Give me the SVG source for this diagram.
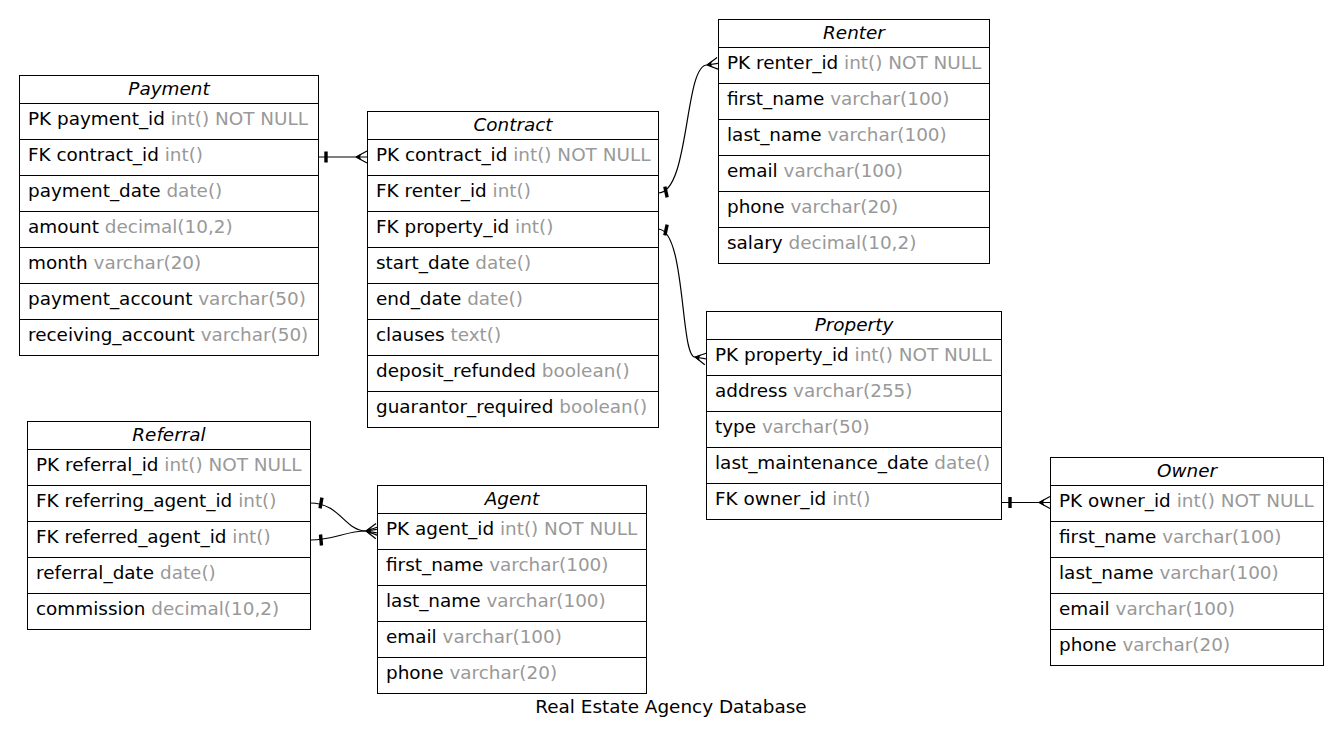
<svg xmlns="http://www.w3.org/2000/svg" width="1342" height="743" viewBox="0 0 1342 743">
<style>
  text { font-family: "DejaVu Sans", "Liberation Sans", sans-serif; font-size: 18.4px; fill: #000; }
  .hd { font-style: italic; text-anchor: middle; }
  .t { fill: #999999; }
  .box { fill: #fff; stroke: #000; stroke-width: 1; }
  .sep { stroke: #000; stroke-width: 1; }
  .edge { fill: none; stroke: #000; stroke-width: 1.2; }
  .ttl { text-anchor: middle; }
</style>
<defs>
  <!-- crow's foot: vertex at origin, prongs open toward +x -->
  <g id="crow">
    <path d="M0,0 L11,-6 M0,0 L11,6 M0,0 L11,0" fill="none" stroke="#000" stroke-width="1.2"/>
    <polygon points="-0.5,0 5.5,-3.4 4,0 5.5,3.4" fill="#000"/>
  </g>
  <!-- one-side bar -->
  <rect id="tee" x="-1.7" y="-5.5" width="3.4" height="11" fill="#000"/>
</defs>
<rect width="1342" height="743" fill="#fff"/>

<g id="connectors">
  <!-- Payment.contract_id -> Contract.contract_id -->
  <path class="edge" d="M318,157 L356,157"/>
  <use href="#tee" transform="translate(326,157)"/>
  <use href="#crow" transform="translate(356,157)"/>
  <!-- Contract.renter_id -> Renter.renter_id -->
  <path class="edge" d="M658,193 C690,193 684,65 707,65"/>
  <use href="#tee" transform="translate(666,192) rotate(-12)"/>
  <use href="#crow" transform="translate(707,65) rotate(-8)"/>
  <!-- Contract.property_id -> Property.property_id -->
  <path class="edge" d="M658,229 C686,229 680,357 695,357"/>
  <use href="#tee" transform="translate(666,230) rotate(12)"/>
  <use href="#crow" transform="translate(695,357) rotate(10)"/>
  <!-- Referral.referring_agent_id -> Agent.agent_id -->
  <path class="edge" d="M310,503 C340,503 345,531 366,531"/>
  <use href="#tee" transform="translate(321,503) rotate(10)"/>
  <use href="#crow" transform="translate(366,531) rotate(10)"/>
  <!-- Referral.referred_agent_id -> Agent.agent_id -->
  <path class="edge" d="M310,540 C335,540 345,531 366,531"/>
  <use href="#tee" transform="translate(321,540) rotate(-5)"/>
  <use href="#crow" transform="translate(366,531) rotate(-8)"/>
  <!-- Property.owner_id -> Owner.owner_id -->
  <path class="edge" d="M1001,502.5 L1039,502.5"/>
  <use href="#tee" transform="translate(1010,502.5)"/>
  <use href="#crow" transform="translate(1039,502.5)"/>
</g>

<g id="payment">
  <rect class="box" x="19.5" y="75.5" width="299" height="280"/>
  <path class="sep" d="M19.5,103.5 H318.5 M19.5,139.5 H318.5 M19.5,175.5 H318.5 M19.5,211.5 H318.5 M19.5,247.5 H318.5 M19.5,283.5 H318.5 M19.5,319.5 H318.5"/>
  <text class="hd" x="169" y="95">Payment</text>
  <text x="28" y="125">PK payment_id <tspan class="t">int() NOT NULL</tspan></text>
  <text x="28" y="161">FK contract_id <tspan class="t">int()</tspan></text>
  <text x="28" y="197">payment_date <tspan class="t">date()</tspan></text>
  <text x="28" y="233">amount <tspan class="t">decimal(10,2)</tspan></text>
  <text x="28" y="269">month <tspan class="t">varchar(20)</tspan></text>
  <text x="28" y="305">payment_account <tspan class="t">varchar(50)</tspan></text>
  <text x="28" y="341">receiving_account <tspan class="t">varchar(50)</tspan></text>
</g>

<g id="contract">
  <rect class="box" x="367.5" y="111.5" width="291" height="316"/>
  <path class="sep" d="M367.5,139.5 H658.5 M367.5,175.5 H658.5 M367.5,211.5 H658.5 M367.5,247.5 H658.5 M367.5,283.5 H658.5 M367.5,319.5 H658.5 M367.5,355.5 H658.5 M367.5,391.5 H658.5"/>
  <text class="hd" x="513" y="131">Contract</text>
  <text x="376" y="161">PK contract_id <tspan class="t">int() NOT NULL</tspan></text>
  <text x="376" y="197">FK renter_id <tspan class="t">int()</tspan></text>
  <text x="376" y="233">FK property_id <tspan class="t">int()</tspan></text>
  <text x="376" y="269">start_date <tspan class="t">date()</tspan></text>
  <text x="376" y="305">end_date <tspan class="t">date()</tspan></text>
  <text x="376" y="341">clauses <tspan class="t">text()</tspan></text>
  <text x="376" y="377">deposit_refunded <tspan class="t">boolean()</tspan></text>
  <text x="376" y="413">guarantor_required <tspan class="t">boolean()</tspan></text>
</g>

<g id="renter">
  <rect class="box" x="718.5" y="19.5" width="271" height="244"/>
  <path class="sep" d="M718.5,47.5 H989.5 M718.5,83.5 H989.5 M718.5,119.5 H989.5 M718.5,155.5 H989.5 M718.5,191.5 H989.5 M718.5,227.5 H989.5"/>
  <text class="hd" x="854" y="39">Renter</text>
  <text x="727" y="69">PK renter_id <tspan class="t">int() NOT NULL</tspan></text>
  <text x="727" y="105">first_name <tspan class="t">varchar(100)</tspan></text>
  <text x="727" y="141">last_name <tspan class="t">varchar(100)</tspan></text>
  <text x="727" y="177">email <tspan class="t">varchar(100)</tspan></text>
  <text x="727" y="213">phone <tspan class="t">varchar(20)</tspan></text>
  <text x="727" y="249">salary <tspan class="t">decimal(10,2)</tspan></text>
</g>

<g id="property">
  <rect class="box" x="706.5" y="311.5" width="295" height="208"/>
  <path class="sep" d="M706.5,339.5 H1001.5 M706.5,375.5 H1001.5 M706.5,411.5 H1001.5 M706.5,447.5 H1001.5 M706.5,483.5 H1001.5"/>
  <text class="hd" x="854" y="331">Property</text>
  <text x="715" y="361">PK property_id <tspan class="t">int() NOT NULL</tspan></text>
  <text x="715" y="397">address <tspan class="t">varchar(255)</tspan></text>
  <text x="715" y="433">type <tspan class="t">varchar(50)</tspan></text>
  <text x="715" y="469">last_maintenance_date <tspan class="t">date()</tspan></text>
  <text x="715" y="505">FK owner_id <tspan class="t">int()</tspan></text>
</g>

<g id="owner">
  <rect class="box" x="1050.5" y="457.5" width="273" height="208"/>
  <path class="sep" d="M1050.5,485.5 H1323.5 M1050.5,521.5 H1323.5 M1050.5,557.5 H1323.5 M1050.5,593.5 H1323.5 M1050.5,629.5 H1323.5"/>
  <text class="hd" x="1187" y="477">Owner</text>
  <text x="1059" y="507">PK owner_id <tspan class="t">int() NOT NULL</tspan></text>
  <text x="1059" y="543">first_name <tspan class="t">varchar(100)</tspan></text>
  <text x="1059" y="579">last_name <tspan class="t">varchar(100)</tspan></text>
  <text x="1059" y="615">email <tspan class="t">varchar(100)</tspan></text>
  <text x="1059" y="651">phone <tspan class="t">varchar(20)</tspan></text>
</g>

<g id="referral">
  <rect class="box" x="27.5" y="421.5" width="283" height="208"/>
  <path class="sep" d="M27.5,449.5 H310.5 M27.5,485.5 H310.5 M27.5,521.5 H310.5 M27.5,557.5 H310.5 M27.5,593.5 H310.5"/>
  <text class="hd" x="169" y="441">Referral</text>
  <text x="36" y="471">PK referral_id <tspan class="t">int() NOT NULL</tspan></text>
  <text x="36" y="507">FK referring_agent_id <tspan class="t">int()</tspan></text>
  <text x="36" y="543">FK referred_agent_id <tspan class="t">int()</tspan></text>
  <text x="36" y="579">referral_date <tspan class="t">date()</tspan></text>
  <text x="36" y="615">commission <tspan class="t">decimal(10,2)</tspan></text>
</g>

<g id="agent">
  <rect class="box" x="377.5" y="485.5" width="269" height="208"/>
  <path class="sep" d="M377.5,513.5 H646.5 M377.5,549.5 H646.5 M377.5,585.5 H646.5 M377.5,621.5 H646.5 M377.5,657.5 H646.5"/>
  <text class="hd" x="512" y="505">Agent</text>
  <text x="386" y="535">PK agent_id <tspan class="t">int() NOT NULL</tspan></text>
  <text x="386" y="571">first_name <tspan class="t">varchar(100)</tspan></text>
  <text x="386" y="607">last_name <tspan class="t">varchar(100)</tspan></text>
  <text x="386" y="643">email <tspan class="t">varchar(100)</tspan></text>
  <text x="386" y="679">phone <tspan class="t">varchar(20)</tspan></text>
</g>

<text class="ttl" x="671" y="713">Real Estate Agency Database</text>
</svg>
